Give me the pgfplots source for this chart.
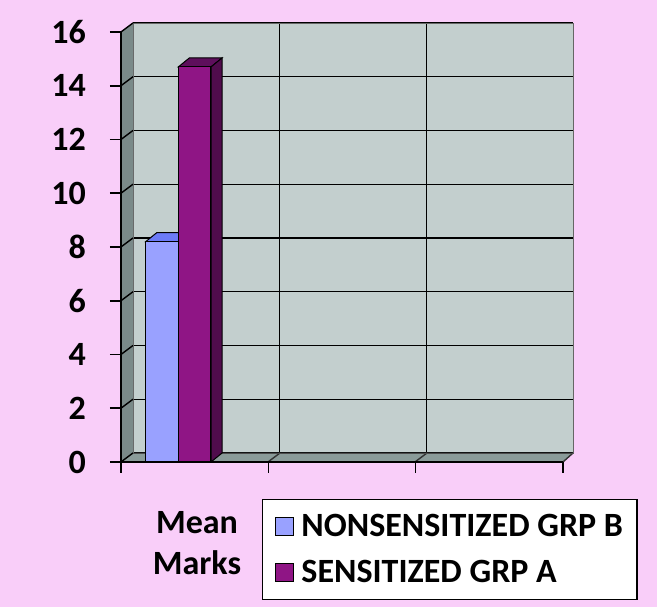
\documentclass[border=0pt]{standalone}
\usepackage{fontspec}
\setmainfont{Carlito}
\usepackage{pgfplots}
\pgfplotsset{compat=1.18}
\definecolor{bgpink}{HTML}{F9CEF9}
\definecolor{wall}{HTML}{C3CFCE}
\definecolor{sidewall}{HTML}{7A8A89}
\definecolor{floorc}{HTML}{8A9B99}
\definecolor{bluefront}{HTML}{99A1FF}
\definecolor{bluetop}{HTML}{6C7BF7}
\definecolor{purpfront}{HTML}{8F1585}
\definecolor{purptop}{HTML}{5E0F5C}
\definecolor{purpside}{HTML}{500C4C}
\begin{document}
\begin{tikzpicture}[x=1pt,y=1pt]
\fill[bgpink] (0pt,0pt) rectangle (657pt,607pt);
\useasboundingbox (0pt,0pt) rectangle (657pt,607pt);
% back wall
\begin{axis}[
  at={(133pt,154pt)}, anchor=south west,
  width=440pt, height=430pt, scale only axis,
  xmin=-0.5, xmax=2.5, ymin=0, ymax=16,
  xtick={0.5,1.5}, ytick={0,2,...,16},
  xticklabels={}, yticklabels={},
  major tick length=0pt,
  grid=major,
  major grid style={black, line width=1.4pt},
  axis background/.style={fill=wall},
  axis line style={black!60, line width=0.8pt},
]
\end{axis}
% side wall and floor
\fill[sidewall] (121pt,145pt) -- (121pt,575pt) -- (133pt,584pt) -- (133pt,154pt) -- cycle;
\fill[floorc] (121pt,145pt) -- (563pt,145pt) -- (573pt,154pt) -- (133pt,154pt) -- cycle;
\foreach \v in {0,2,...,16}{
  \draw[black, line width=1.4pt] (121pt,{145pt+\v*26.875pt}) -- (133pt,{154pt+\v*26.875pt});
}
\foreach \xx/\xb in {268/280,415/427,563/573}{
  \draw[black!80, line width=1.4pt] (\xx pt,145pt) -- (\xb pt,154pt);
}
\draw[black!70, line width=0.8pt] (133pt,154pt) -- (573pt,154pt);
% front axis
\begin{axis}[
  at={(121pt,145pt)}, anchor=south west,
  width=442pt, height=430pt, scale only axis,
  xmin=-0.5, xmax=2.5, ymin=0, ymax=16,
  axis x line*=bottom, axis y line*=left,
  axis line style={black, line width=1.6pt},
  xtick={-0.5,0.5,1.5,2.5}, xticklabels={,,,},
  ytick={0,2,...,16},
  tick align=outside, major tick length=11pt,
  tick style={black, line width=1.6pt},
  /pgf/number format/assume math mode=true,
  yticklabel style={font=\fontsize{34}{34}\selectfont\bfseries, anchor=east, inner sep=0pt, xshift=-24pt},
  legend style={at={(0.319,-0.086)}, anchor=north west, draw=black, line width=1.2pt, fill=white,
    font=\fontsize{34}{34}\selectfont\bfseries, row sep=18pt, inner xsep=12pt, inner ysep=13pt},
  legend cell align=left,
  mylegend/.style={legend image code/.code={\draw[##1, draw=black, line width=0.8pt] (0pt,-9pt) rectangle (18pt,9pt); \path (24pt,0pt);}},
]
% blue bar top
\addplot[fill=bluetop, draw=black, line width=1pt, forget plot] coordinates {(-0.332,8.2) (-0.257,8.535) (-0.036,8.535) (-0.111,8.2)} -- cycle;
\addplot[ybar, bar width=32.6pt, bar shift=0pt, fill=bluefront, draw=black, line width=1pt, mylegend] coordinates {(-0.2215,8.2)};
% purple bar top and side
\addplot[fill=purptop, draw=black, line width=1pt, forget plot] coordinates {(-0.111,14.7) (-0.036,15.035) (0.186,15.035) (0.111,14.7)} -- cycle;
\addplot[fill=purpside, draw=black, line width=1pt, forget plot] coordinates {(0.111,0) (0.186,0.335) (0.186,15.035) (0.111,14.7)} -- cycle;
\addplot[ybar, bar width=32.6pt, bar shift=0pt, fill=purpfront, draw=black, line width=1pt, mylegend] coordinates {(0,14.7)};
\legend{NONSENSITIZED GRP B, SENSITIZED GRP A}
\end{axis}
\node[align=center, font=\fontsize{34}{41}\selectfont\bfseries] at (197pt,64pt) {Mean\\Marks};
\end{tikzpicture}
\end{document}
